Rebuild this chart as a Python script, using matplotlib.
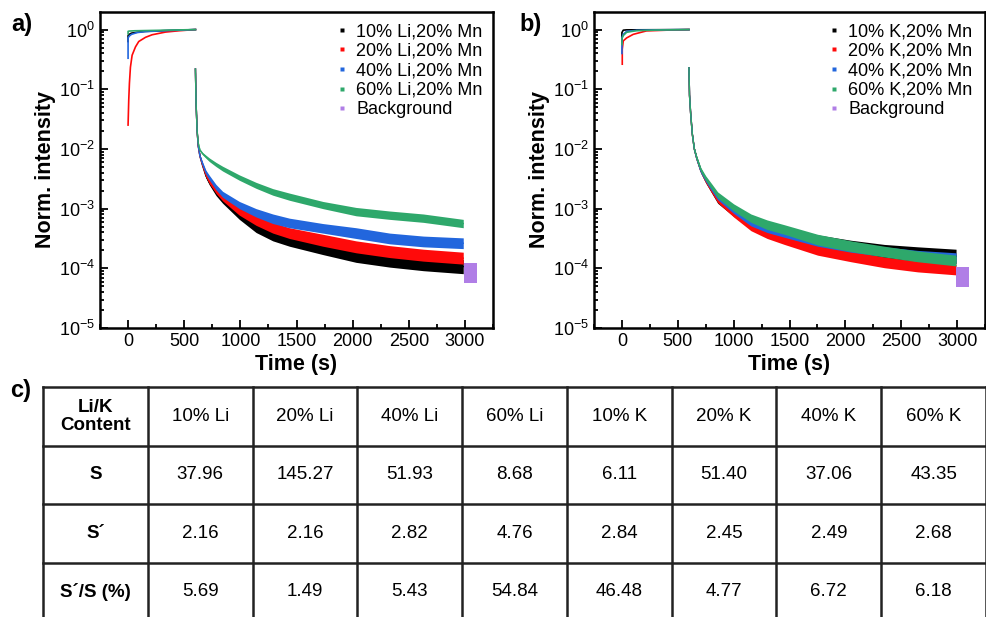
import matplotlib
matplotlib.use('Agg')
import matplotlib.pyplot as plt
from matplotlib.lines import Line2D
from matplotlib.ticker import MultipleLocator, LogLocator, NullFormatter
import numpy as np

plt.rcParams['font.family'] = ['Liberation Sans', 'DejaVu Sans']
plt.rcParams['mathtext.fontset'] = 'custom'
plt.rcParams['mathtext.rm'] = 'Liberation Sans'
plt.rcParams['mathtext.it'] = 'Liberation Sans'
plt.rcParams['mathtext.default'] = 'regular'

# ---------------- data (intensities as log10 exponents) ----------------
colors = ['#000000', '#ff0a0a', '#2266dd', '#2ea86b']
bg_color = '#b07ee6'

labels_a = ['10% Li,20% Mn', '20% Li,20% Mn', '40% Li,20% Mn', '60% Li,20% Mn', 'Background']
labels_b = ['10% K,20% Mn', '20% K,20% Mn', '40% K,20% Mn', '60% K,20% Mn', 'Background']

# charging part (0-600 s), panel a
rise_a_t = [
    [0, 0, 10, 30, 80, 150, 300, 450, 600],
    [0, 6, 12, 21, 36, 66, 95, 155, 214, 333, 452, 600],
    [0, 0, 10, 30, 80, 150, 300, 450, 600],
    [0, 0, 10, 60, 200, 400, 600],
]
rise_a_log = [
    [-0.2, -0.1, -0.08, -0.06, -0.045, -0.03, -0.02, -0.01, 0.0],
    [-1.6, -1.18, -0.9, -0.63, -0.43, -0.29, -0.2, -0.13, -0.087, -0.042, -0.02, 0.0],
    [-0.48, -0.14, -0.11, -0.08, -0.05, -0.035, -0.02, -0.01, 0.0],
    [-0.07, -0.03, -0.025, -0.02, -0.015, -0.008, 0.0],
]
# decay part (after 600 s), panel a
decay_a_t = [600, 605, 615, 625, 640, 664, 693, 723, 783, 842, 991, 1140, 1289, 1437, 1735, 2030, 2330, 2630, 2985]
decay_a_log = [
    [-0.66, -1.2, -1.7, -1.95, -2.12, -2.28, -2.45, -2.56, -2.73, -2.85, -3.10, -3.31, -3.44, -3.53, -3.66, -3.78, -3.86, -3.92, -3.97],
    [-0.66, -1.2, -1.7, -1.95, -2.12, -2.27, -2.43, -2.54, -2.70, -2.82, -3.04, -3.20, -3.32, -3.41, -3.53, -3.64, -3.72, -3.78, -3.83],
    [-0.66, -1.2, -1.7, -1.95, -2.12, -2.25, -2.39, -2.48, -2.64, -2.76, -2.94, -3.07, -3.17, -3.24, -3.33, -3.41, -3.50, -3.55, -3.58],
    [-0.66, -1.2, -1.7, -1.90, -2.02, -2.08, -2.13, -2.18, -2.26, -2.33, -2.48, -2.61, -2.72, -2.80, -2.94, -3.05, -3.11, -3.16, -3.25],
]
spread_a = [
    [0.01, 0.01, 0.01, 0.015, 0.02, 0.03, 0.035, 0.04, 0.05, 0.06, 0.08, 0.09, 0.10, 0.10, 0.11, 0.12, 0.12, 0.12, 0.12],
    [0.01, 0.01, 0.01, 0.015, 0.02, 0.03, 0.035, 0.04, 0.045, 0.05, 0.07, 0.08, 0.09, 0.09, 0.10, 0.10, 0.10, 0.10, 0.10],
    [0.01, 0.01, 0.01, 0.015, 0.02, 0.03, 0.035, 0.04, 0.045, 0.05, 0.06, 0.07, 0.08, 0.08, 0.08, 0.09, 0.09, 0.09, 0.09],
    [0.01, 0.01, 0.01, 0.015, 0.02, 0.02, 0.025, 0.03, 0.035, 0.04, 0.045, 0.05, 0.055, 0.06, 0.06, 0.07, 0.07, 0.07, 0.07],
]
bg_a_t = [2990, 3110]
bg_a_log = [-4.08, -4.08]
bg_a_spread = [0.17, 0.17]

# panel b
rise_b_t = [
    [0, 0, 12, 40, 600],
    [3, 3, 12, 42, 101, 220, 400, 600],
    [0, 0, 12, 42, 130, 310, 600],
    [0, 0, 12, 42, 130, 310, 600],
]
rise_b_log = [
    [-0.2, -0.05, -0.01, -0.005, 0.0],
    [-0.58, -0.33, -0.19, -0.14, -0.08, -0.022, -0.01, 0.0],
    [-0.4, -0.14, -0.08, -0.03, -0.013, -0.005, 0.0],
    [-0.25, -0.15, -0.1, -0.046, -0.018, -0.008, 0.0],
]
decay_b_t = [600, 605, 615, 630, 648, 670, 707, 750, 800, 857, 1000, 1155, 1300, 1454, 1752, 2051, 2349, 2648, 2991]
decay_b_log = [
    [-0.64, -1.1, -1.4, -1.75, -2.0, -2.16, -2.37, -2.53, -2.68, -2.85, -3.05, -3.25, -3.34, -3.42, -3.55, -3.65, -3.72, -3.76, -3.80],
    [-0.64, -1.1, -1.4, -1.75, -2.0, -2.16, -2.37, -2.53, -2.68, -2.85, -3.08, -3.30, -3.42, -3.52, -3.69, -3.80, -3.90, -3.97, -4.02],
    [-0.64, -1.1, -1.4, -1.75, -2.0, -2.16, -2.37, -2.51, -2.65, -2.80, -3.02, -3.22, -3.32, -3.40, -3.55, -3.65, -3.72, -3.78, -3.82],
    [-0.64, -1.1, -1.4, -1.75, -2.0, -2.15, -2.35, -2.49, -2.62, -2.77, -2.98, -3.16, -3.27, -3.35, -3.52, -3.63, -3.72, -3.80, -3.87],
]
spread_b = [
    [0.01, 0.01, 0.01, 0.015, 0.02, 0.03, 0.035, 0.04, 0.05, 0.06, 0.08, 0.09, 0.10, 0.10, 0.11, 0.12, 0.12, 0.12, 0.12],
    [0.01, 0.01, 0.01, 0.015, 0.02, 0.03, 0.035, 0.04, 0.045, 0.05, 0.06, 0.07, 0.08, 0.08, 0.09, 0.09, 0.09, 0.09, 0.09],
    [0.01, 0.01, 0.01, 0.015, 0.02, 0.03, 0.035, 0.04, 0.045, 0.05, 0.06, 0.07, 0.08, 0.08, 0.08, 0.08, 0.08, 0.08, 0.08],
    [0.01, 0.01, 0.01, 0.015, 0.02, 0.03, 0.035, 0.04, 0.045, 0.05, 0.06, 0.07, 0.08, 0.08, 0.09, 0.09, 0.09, 0.09, 0.09],
]
bg_b_t = [2990, 3110]
bg_b_log = [-4.15, -4.15]
bg_b_spread = [0.17, 0.17]

# table c
table_header = ['Li/K\nContent', '10% Li', '20% Li', '40% Li', '60% Li', '10% K', '20% K', '40% K', '60% K']
row_names = ['S', 'S\u00b4', 'S\u00b4/S (%)']
S_vals = ['37.96', '145.27', '51.93', '8.68', '6.11', '51.40', '37.06', '43.35']
Sp_vals = ['2.16', '2.16', '2.82', '4.76', '2.84', '2.45', '2.49', '2.68']
ratio_vals = ['5.69', '1.49', '5.43', '54.84', '46.48', '4.77', '6.72', '6.18']


def draw_panel(ax, rise_t, rise_log, dec_t, dec_log, spread, bg_t, bg_log, bg_spread, labels, leg_x):
    for i in range(4):
        ax.plot(rise_t[i], 10 ** np.array(rise_log[i]), color=colors[i], lw=1.2, zorder=2 + i)
    for i in range(4):
        c = np.array(dec_log[i])
        w = np.array(spread[i])
        ax.fill_between(dec_t, 10 ** (c - w), 10 ** (c + w), color=colors[i], lw=0, zorder=2 + i)
        ax.plot(dec_t, 10 ** c, color=colors[i], lw=1.0, zorder=2 + i)
    c = np.array(bg_log)
    w = np.array(bg_spread)
    ax.fill_between(bg_t, 10 ** (c - w), 10 ** (c + w), color=bg_color, lw=0, zorder=7)

    ax.set_yscale('log')
    ax.set_ylim(1e-5, 1.97)
    ax.set_xlim(-250, 3250)
    ax.xaxis.set_major_locator(MultipleLocator(500))
    ax.xaxis.set_minor_locator(MultipleLocator(250))
    ax.yaxis.set_major_locator(LogLocator(base=10, numticks=10))
    ax.yaxis.set_minor_locator(LogLocator(base=10, subs=np.arange(2, 10), numticks=20))
    ax.yaxis.set_minor_formatter(NullFormatter())
    ax.tick_params(which='both', direction='in', labelsize=13, top=False, right=False, width=1.3)
    ax.tick_params(which='major', length=6)
    ax.tick_params(which='minor', length=3)
    for s in ax.spines.values():
        s.set_linewidth(1.8)
    ax.set_xlabel('Time (s)', fontsize=15.5, fontweight='bold', labelpad=3)
    ax.set_ylabel('Norm. intensity', fontsize=15.5, fontweight='bold', labelpad=2)

    handles = [Line2D([], [], ls='none', marker='s', ms=2.2, color=c, mec='none')
               for c in colors + [bg_color]]
    ax.legend(handles, labels, loc='upper left', bbox_to_anchor=(leg_x, 1.01), frameon=False,
              fontsize=13, handlelength=0.5, handletextpad=0.55, labelspacing=0.14, borderpad=0.3)


fig = plt.figure(figsize=(9.87, 6.17), dpi=100)
W, H = 987.0, 617.0
ax_a = fig.add_axes([100 / W, 1 - 328 / H, 393 / W, 316 / H])
ax_b = fig.add_axes([594 / W, 1 - 328 / H, 391 / W, 316 / H])

draw_panel(ax_a, rise_a_t, rise_a_log, decay_a_t, decay_a_log, spread_a, bg_a_t, bg_a_log, bg_a_spread, labels_a, 0.567)
draw_panel(ax_b, rise_b_t, rise_b_log, decay_b_t, decay_b_log, spread_b, bg_b_t, bg_b_log, bg_b_spread, labels_b, 0.565)

fig.text(22 / W, 1 - 24 / H, 'a)', fontsize=17, fontweight='bold', ha='center', va='center')
fig.text(531 / W, 1 - 24 / H, 'b)', fontsize=17, fontweight='bold', ha='center', va='center')
fig.text(21 / W, 1 - 391 / H, 'c)', fontsize=17, fontweight='bold', ha='center', va='center')

# table
ax_t = fig.add_axes([43 / W, 1 - 621 / H, 943 / W, 234 / H])
ax_t.set_xlim(0, 9)
ax_t.set_ylim(4, 0)
ax_t.axis('off')
for k in range(10):
    ax_t.plot([k, k], [0, 4], color='#222222', lw=1.8, clip_on=False, solid_capstyle='projecting')
for k in range(5):
    ax_t.plot([0, 9], [k, k], color='#222222', lw=1.8, clip_on=False, solid_capstyle='projecting')

for j, h in enumerate(table_header):
    ax_t.text(j + 0.5, 0.5, h, ha='center', va='center', fontsize=13.5,
              fontweight='bold' if j == 0 else 'normal', linespacing=1.1)
for r, (name, vals) in enumerate(zip(row_names, [S_vals, Sp_vals, ratio_vals])):
    ax_t.text(0.5, r + 1.5, name, ha='center', va='center', fontsize=13.5, fontweight='bold')
    for j, v in enumerate(vals):
        ax_t.text(j + 1.5, r + 1.5, v, ha='center', va='center', fontsize=13.5)

plt.savefig('out.png', dpi=100)
